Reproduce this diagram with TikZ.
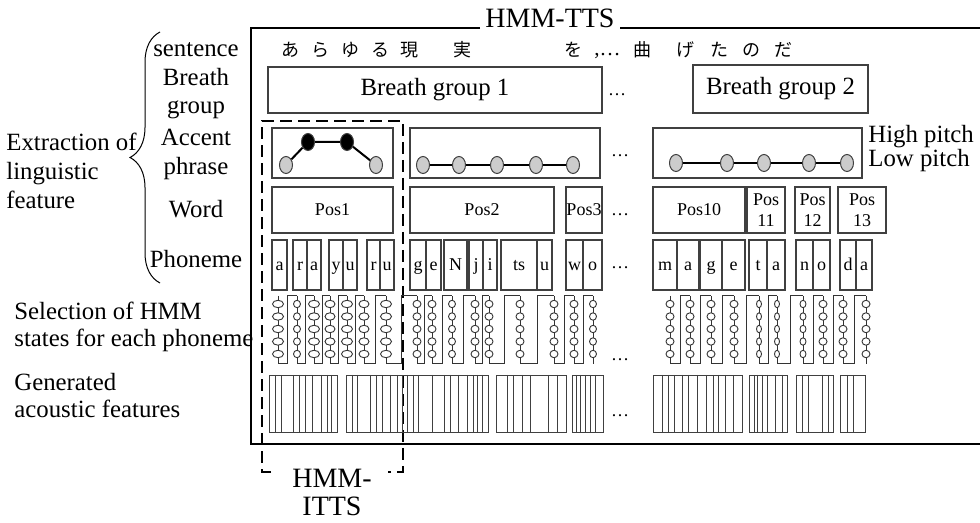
\documentclass[tikz,border=0pt]{standalone}
\usepackage{fontspec}
\setmainfont{Liberation Serif}
\newfontfamily\jpfont{Noto Sans CJK JP}
\usetikzlibrary{shapes, decorations.pathreplacing, positioning, calc}

\begin{document}
\begin{tikzpicture}[
		x=0.5pt, y=-0.5pt,
		every node/.style={inner sep=0pt, font=\fontsize{12.4}{14}\selectfont},
		lvl/.style={text height=1.6ex, text depth=0.4ex},
		big/.style={font=\fontsize{14}{14}\selectfont},
		small/.style={font=\fontsize{9}{10.5}\selectfont},
		jp/.style={font=\jpfont\fontsize{9}{9}\selectfont},
		box/.style={draw=black!75, line width=0.55pt, rectangle, align=center},
		cell/.style={box, small, minimum height=25pt, text height=1.5ex, text depth=0.3ex},
		frame/.style={line width=1pt},
		itts/.style={line width=1pt, dash pattern=on 6pt off 3pt},
		pitch/.style={ellipse, draw=black!75, fill=black!20, minimum width=6.5pt, minimum height=8.5pt, line width=0.5pt},
		high/.style={pitch, fill=black},
		link/.style={line width=1pt},
		state/.style={ellipse, draw=black!80, fill=white, line width=0.45pt, minimum height=3.7pt},
		serp/.style={line width=0.5pt, black!80},
		frm/.style={line width=0.45pt, black!75}
	]
	\useasboundingbox (0,0) rectangle (980,523);

	% Frames
	\node[big] (tts) at (550,18) {HMM-TTS};
	\draw[frame] (480,28) -- (251,28) -- (251,444) -- (990,444);
	\draw[frame] (620,28) -- (990,28);

	\node[big, align=center] (ittslbl) at (332,492) {HMM-\\ITTS};
	\draw[itts] (271,472) -- (262,472) -- (262,121) -- (403,121) -- (403,472) -- (388,472);

	% Left labels
	\draw[decorate, decoration={brace, amplitude=15pt}, line width=0.5pt] (160,283) -- (160,32);
	\node[align=left, anchor=west, font=\fontsize{12.4}{14.5}\selectfont] (extr) at (6,171) {Extraction of\\linguistic\\feature};
	\node[lvl] (sent) at (196,51) {sentence};
	\node[lvl] (breath) at (196,80) {Breath};
	\node[lvl] (group) at (196,108) {group};
	\node[lvl] (accent) at (196,140) {Accent};
	\node[lvl] (phrase) at (196,169) {phrase};
	\node[lvl] (word) at (196,212) {Word};
	\node[lvl] (phon) at (196,262) {Phoneme};
	\node[align=left, anchor=west, font=\fontsize{12.4}{13.5}\selectfont] (sel) at (14,327) {Selection of HMM\\states for each phoneme};
	\node[align=left, anchor=west, font=\fontsize{12.4}{13.5}\selectfont] (gen) at (14,396) {Generated\\acoustic features};

	% Sentence
	\foreach \x/\ch [count=\i] in {290/あ, 320/ら, 350/ゆ, 380/る, 409/現, 462/実, 573/を, 642/曲, 685/げ, 719/た, 751/の, 783/だ}
		\node[jp] (jp\i) at (\x,50) {\ch};
	\node[anchor=base west, font=\fontsize{10.5}{12}\selectfont] (jpdots) at (594,56) {,…};

	% Breath groups
	\node[box, minimum width=167pt, minimum height=23pt] (bg1) at (435,90) {Breath group 1};
	\node[box, minimum width=87.5pt, minimum height=24pt] (bg2) at (780.5,89) {Breath group 2};
	\node[small, anchor=base] (dots1) at (617,96) {…};

	% Accent phrases
	\node[box, minimum width=60.5pt, minimum height=25pt] (ap1) at (332.5,153) {};
	\node[box, minimum width=95pt, minimum height=25pt] (ap2) at (505,153) {};
	\node[box, minimum width=104.5pt, minimum height=25pt] (ap3) at (757.5,153) {};
	\node[small, anchor=base] (dots2) at (620,157) {…};

	\node[pitch] (a1) at (286,165) {};
	\node[high] (a2) at (308,142) {};
	\node[high] (a3) at (347,142) {};
	\node[pitch] (a4) at (376,165) {};
	\draw[link] (a1) -- (a2) -- (a3) -- (a4);
	\foreach \x [count=\i] in {423,459,497,536,573}
		\node[pitch] (b\i) at (\x,165) {};
	\draw[link] (b1) -- (b2) -- (b3) -- (b4) -- (b5);
	\foreach \x [count=\i] in {676,727,764,809,847}
		\node[pitch] (c\i) at (\x,163) {};
	\draw[link] (c1) -- (c2) -- (c3) -- (c4) -- (c5);

	\node[anchor=base west] (hi) at (868,143) {High pitch};
	\node[anchor=base west] (lo) at (868,167) {Low pitch};

	% Words
	\node[box, small, minimum width=60.5pt, minimum height=23pt] (w1) at (332.5,210) {Pos1};
	\node[box, small, minimum width=72pt, minimum height=23pt] (w2) at (482,210) {Pos2};
	\node[box, small, minimum width=18pt, minimum height=23pt] (w3) at (584,210) {Pos3};
	\node[box, small, minimum width=46pt, minimum height=23pt] (w10) at (699,210) {Pos10};
	\node[box, small, minimum width=19pt, minimum height=23pt] (w11) at (766,210) {Pos\\11};
	\node[box, small, minimum width=17.5pt, minimum height=23pt] (w12) at (812.5,210) {Pos\\12};
	\node[box, small, minimum width=24pt, minimum height=23pt] (w13) at (862,210) {Pos\\13};
	\node[small, anchor=base] (dots3) at (620,216) {…};

	% Phonemes
	\foreach \l/\r/\t [count=\i] in {272/287/a, 293/307/r, 307/321/a, 329/343/y, 343/357/u, 367/380/r, 380/394/u,
			410/426/g, 426/441/e, 444/467/N, 469/483/j, 483/497/i, 501/537/ts, 537/552/u, 566/583/w, 583/602/o,
			653/677/m, 677/699/a, 700/722/g, 722/745/e, 749/767/t, 767/785/a, 796/813/n, 813/830/o, 840/856/d, 856/872/a}
		\node[cell, minimum width={(\r-\l)*0.5pt}] (ph\i) at ({(\l+\r)/2},265) {\t};
	\node[small, anchor=base] (dots4) at (620,269) {…};

	% HMM states
	\foreach \c/\w [count=\i, remember=\c as \p (initially 0)] in {278/11, 297/7, 314/11, 330/10, 347/11, 364/10, 386/11,
			417/8, 432/8, 452/7, 475/8, 489/8, 520/8, 554/8, 574/8, 593/7} {
		\ifnum\i>1 \draw[serp] (\p,364) -- ({(\p+\c)/2},364) -- ({(\p+\c)/2},296) -- (\c,296); \fi
		\draw[serp] (\c,296) -- (\c,364);
		\foreach \y [count=\k] in {304,316.5,329,341.5,354}
			\node[state, minimum width=\w*0.5pt] (sa\i-\k) at (\c,\y) {};
	}
	\foreach \c/\w [count=\i, remember=\c as \p (initially 0)] in {670/8, 690/8, 711/8, 734/8, 759/5, 777/5, 803/6, 823/8, 843/8, 866/8} {
		\ifnum\i>1 \draw[serp] (\p,364) -- ({(\p+\c)/2},364) -- ({(\p+\c)/2},296) -- (\c,296); \fi
		\draw[serp] (\c,296) -- (\c,364);
		\foreach \y [count=\k] in {304,316.5,329,341.5,354}
			\node[state, minimum width=\w*0.5pt] (sb\i-\k) at (\c,\y) {};
	}
	\node[small, anchor=base] (dots5) at (620,361) {…};

	% Acoustic features
	\draw[frm] (269,375) rectangle (337,432);
	\foreach \x in {275,281,293,299,305,312,321,327,331} \draw[frm] (\x,375) -- (\x,432);
	\draw[frm] (346,375) rectangle (488,432);
	\foreach \x in {352,357,370,376,382,390,397,402,407,413,418,432,444,450,458,467,473,477,482} \draw[frm] (\x,375) -- (\x,432);
	\draw[frm] (496,375) rectangle (566,432);
	\foreach \x in {507,513,522,530,548,557} \draw[frm] (\x,375) -- (\x,432);
	\draw[frm] (572,375) rectangle (603,432);
	\foreach \x in {576,580,585,590,595} \draw[frm] (\x,375) -- (\x,432);
	\draw[frm] (653,375) rectangle (742,432);
	\foreach \x in {662,668,674,682,688,697,706,713,718,725,733} \draw[frm] (\x,375) -- (\x,432);
	\draw[frm] (749,375) rectangle (787,432);
	\foreach \x in {754,757,762,767,775,782} \draw[frm] (\x,375) -- (\x,432);
	\draw[frm] (796,375) rectangle (833,432);
	\foreach \x in {802,808,822,828} \draw[frm] (\x,375) -- (\x,432);
	\draw[frm] (840,375) rectangle (865,432);
	\foreach \x in {847,853} \draw[frm] (\x,375) -- (\x,432);
	\node[small, anchor=base] (dots6) at (620,417) {…};

\end{tikzpicture}
\end{document}
